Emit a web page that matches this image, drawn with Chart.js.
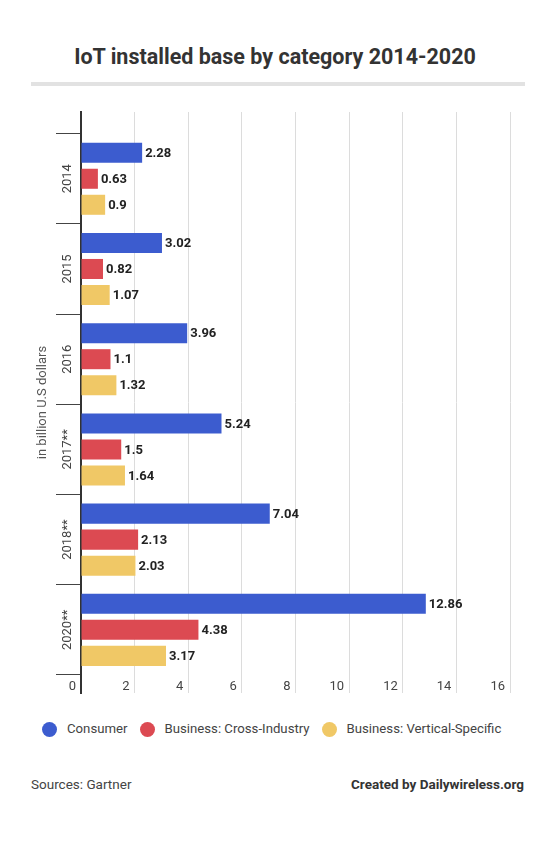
<!DOCTYPE html>
<html>
<head>
<meta charset="utf-8">
<script src="https://cdn.jsdelivr.net/npm/chart.js@4"></script>
<style>
  body { margin: 0; width: 550px; height: 868px; background: #fff; font-family: Roboto, "Open Sans", sans-serif; position: relative; }
  h1 { position: absolute; top: 45px; left: 0; width: 550px; margin: 0; text-align: center; font-size: 21.5px; font-weight: 700; color: #333; line-height: 24px; }
  .rule { position: absolute; top: 82px; left: 31px; width: 494px; height: 4px; background: #e2e2e2; }
  .wrap { position: absolute; top: 100px; left: 0; width: 550px; height: 605px; }
  .legend { position: absolute; top: 720px; left: 42px; display: flex; align-items: center; font-size: 13.2px; color: #444; line-height: 18px; }
  .legend span.dot { display: inline-block; width: 15px; height: 15px; border-radius: 50%; margin-right: 10px; }
  .legend span.item { display: flex; align-items: center; margin-right: 12px; }
  .foot { position: absolute; top: 776px; font-size: 13.5px; color: #444; }
</style>
</head>
<body>
<h1>IoT installed base by category 2014-2020</h1>
<div class="rule"></div>
<div class="wrap"><canvas id="chart"></canvas></div>
<div class="legend" id="legend"></div>
<div class="foot" style="left:31px">Sources: Gartner</div>
<div class="foot" style="right:26px;font-weight:700;color:#333">Created by Dailywireless.org</div>
<script>
const years = ["2014", "2015", "2016", "2017**", "2018**", "2020**"];
const seriesNames = ["Consumer", "Business: Cross-Industry", "Business: Vertical-Specific"];
const consumer = [2.28, 3.02, 3.96, 5.24, 7.04, 12.86];
const crossIndustry = [0.63, 0.82, 1.1, 1.5, 2.13, 4.38];
const verticalSpecific = [0.9, 1.07, 1.32, 1.64, 2.03, 3.17];
const xTicks = [0, 2, 4, 6, 8, 10, 12, 14, 16];
const colors = ["#3c5ccf", "#dc4a52", "#f0c866"];

// bars sit on a linear index axis so the plot can run past the first/last band
const toPoints = arr => arr.map((v, i) => ({ x: v, y: i }));

const valueLabels = {
  id: "valueLabels",
  afterDatasetsDraw(chart) {
    const ctx = chart.ctx;
    ctx.save();
    ctx.font = "bold 13px Roboto";
    ctx.fillStyle = "#222";
    ctx.textBaseline = "middle";
    chart.data.datasets.forEach((ds, di) => {
      chart.getDatasetMeta(di).data.forEach((bar, i) => {
        ctx.fillText(String(ds.data[i].x), bar.x + 3, bar.y + 1);
      });
    });
    ctx.restore();
  }
};

const chart = new Chart(document.getElementById("chart"), {
  type: "bar",
  data: {
    datasets: [consumer, crossIndustry, verticalSpecific].map((arr, i) => ({
      label: seriesNames[i],
      data: toPoints(arr),
      backgroundColor: colors[i]
    }))
  },
  options: {
    indexAxis: "y",
    responsive: true,
    maintainAspectRatio: false,
    animation: false,
    barPercentage: 0.77,
    categoryPercentage: 0.865,
    layout: { padding: { top: 12, left: 28, right: 40, bottom: 0 } },
    scales: {
      x: {
        type: "linear",
        min: 0,
        max: 16,
        afterBuildTicks: s => { s.ticks = xTicks.map(v => ({ value: v })); },
        afterFit: s => { s.height = 12; },
        grid: { color: "#dcdcdc", drawTicks: false },
        border: { display: false },
        // mirrored so the labels sit inside the plot, above the grid line ends
        ticks: { mirror: true, align: "end", labelOffset: -5, padding: -2, color: "#444", font: { size: 13, family: "Roboto" } }
      },
      y: {
        type: "linear",
        offset: false,
        reverse: true,
        min: -0.74,
        max: 5.7,
        afterBuildTicks: s => { s.ticks = years.map((y, i) => ({ value: i })); },
        afterFit: s => { s.width = 53; },
        grid: { offset: true, drawOnChartArea: false, drawTicks: true, tickLength: 25, color: "#444" },
        border: { display: true, color: "#333", width: 2 },
        ticks: {
          autoSkip: false,
          minRotation: 90,
          maxRotation: 90,
          crossAlign: "center",
          padding: -32,
          color: "#444",
          font: { size: 13, family: "Roboto" },
          callback: v => years[v]
        },
        title: { display: true, text: "in billion U.S dollars", color: "#555", font: { size: 13, family: "Roboto" }, padding: { top: 7, bottom: 0 } }
      }
    },
    plugins: {
      legend: { display: false },
      tooltip: { enabled: false }
    }
  },
  plugins: [valueLabels]
});

// legend row under the plot, built from the chart's datasets
document.getElementById("legend").innerHTML = chart.data.datasets.map(ds =>
  `<span class="item"><span class="dot" style="background:${ds.backgroundColor}"></span>${ds.label}</span>`
).join("");
</script>
</body>
</html>
